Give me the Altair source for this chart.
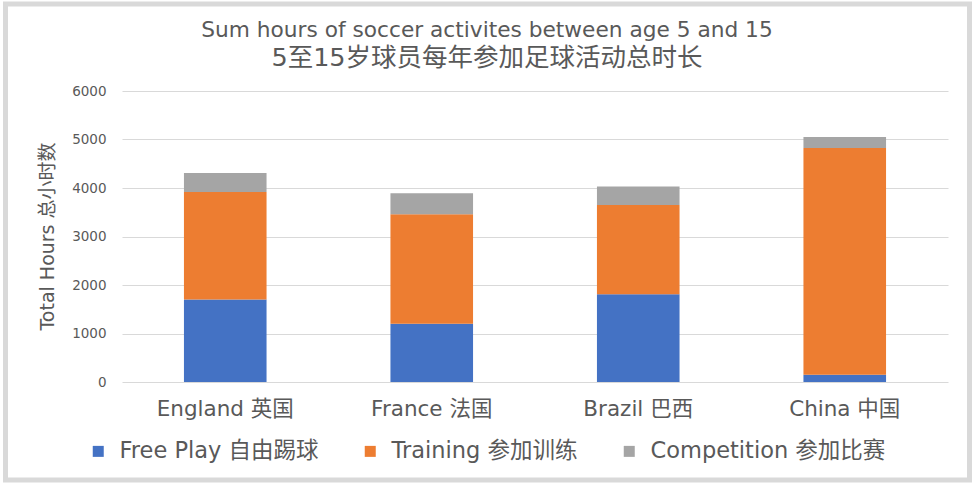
import altair as alt
import pandas as pd

countries = ["England 英国", "France 法国", "Brazil 巴西", "China 中国"]
series = ["Free Play 自由踢球", "Training 参加训练", "Competition 参加比赛"]
free_play = [1700, 1200, 1810, 150]
training = [2220, 2260, 1840, 4675]
competition = [390, 430, 380, 225]
colors = ["#4472C4", "#ED7D31", "#A5A5A5"]
y_ticks = [0, 1000, 2000, 3000, 4000, 5000, 6000]

rows = []
for i, c in enumerate(countries):
    for j, (s, vals) in enumerate(zip(series, [free_play, training, competition])):
        rows.append({"country": c, "series": s, "hours": vals[i], "order": j})
df = pd.DataFrame(rows)

FONT = "'DejaVu Sans', 'Noto Sans CJK SC', sans-serif"
GREY = "#595959"

bars = alt.Chart(df).mark_bar().encode(
    x=alt.X("country:N", sort=countries,
            scale=alt.Scale(paddingInner=0.6, paddingOuter=0.3),
            axis=alt.Axis(title=None, labelAngle=0, labelFontSize=21.5, labelColor=GREY,
                          labelFont=FONT, labelPadding=16, domain=False, ticks=False,
                          grid=False, labelLimit=300)),
    y=alt.Y("hours:Q", stack="zero",
            scale=alt.Scale(domain=[0, 6000], nice=False),
            axis=alt.Axis(values=y_ticks, format="d", title="Total Hours 总小时数", titleFontSize=19,
                          titleFont=FONT, titleFontWeight="normal", titleColor=GREY,
                          titleX=-75, titleY=145, titleAngle=270, titleBaseline="middle",
                          titleAlign="center",
                          labelFontSize=13.5, labelColor=GREY, labelFont=FONT, labelPadding=16,
                          domain=False, ticks=False, grid=True, gridColor="#d9d9d9", gridWidth=1)),
    color=alt.Color("series:N", scale=alt.Scale(domain=series, range=colors),
                    legend=alt.Legend(title=None, orient="none", direction="horizontal",
                                      legendX=-35, legendY=349, symbolType="square",
                                      symbolSize=121, symbolStrokeWidth=0, labelFontSize=22.5,
                                      labelFont=FONT, labelColor=GREY, columnPadding=40,
                                      labelOffset=10, symbolOpacity=1, labelLimit=400)),
    order=alt.Order("order:Q", sort="ascending"),
)

frame = alt.Chart(alt.Data(values=[{}])).mark_rect(
    fill=None, stroke="#d9d9d9", strokeWidth=5
).encode(
    x=alt.value(-116.5), x2=alt.value(847.5), y=alt.value(-87), y2=alt.value(389)
)

chart = alt.layer(bars, frame).properties(
    width=826, height=291,
    padding={"left": 122, "top": 91, "right": 27, "bottom": 102},
    autosize=alt.AutoSizeParams(type="none"),
    title=alt.TitleParams(
        text="Sum hours of  soccer activites between age 5 and 15",
        subtitle="5至15岁球员每年参加足球活动总时长",
        fontSize=21.7, font=FONT, fontWeight="normal", color=GREY,
        subtitleFontSize=25.5, subtitleFont=FONT, subtitleFontWeight="normal",
        subtitleColor=GREY, subtitlePadding=4,
        anchor="middle", frame="group", dx=-48, offset=-70),
    background="white",
).configure_view(stroke=None)

chart.save("out.html", embed_options={"renderer": "svg", "actions": False})
